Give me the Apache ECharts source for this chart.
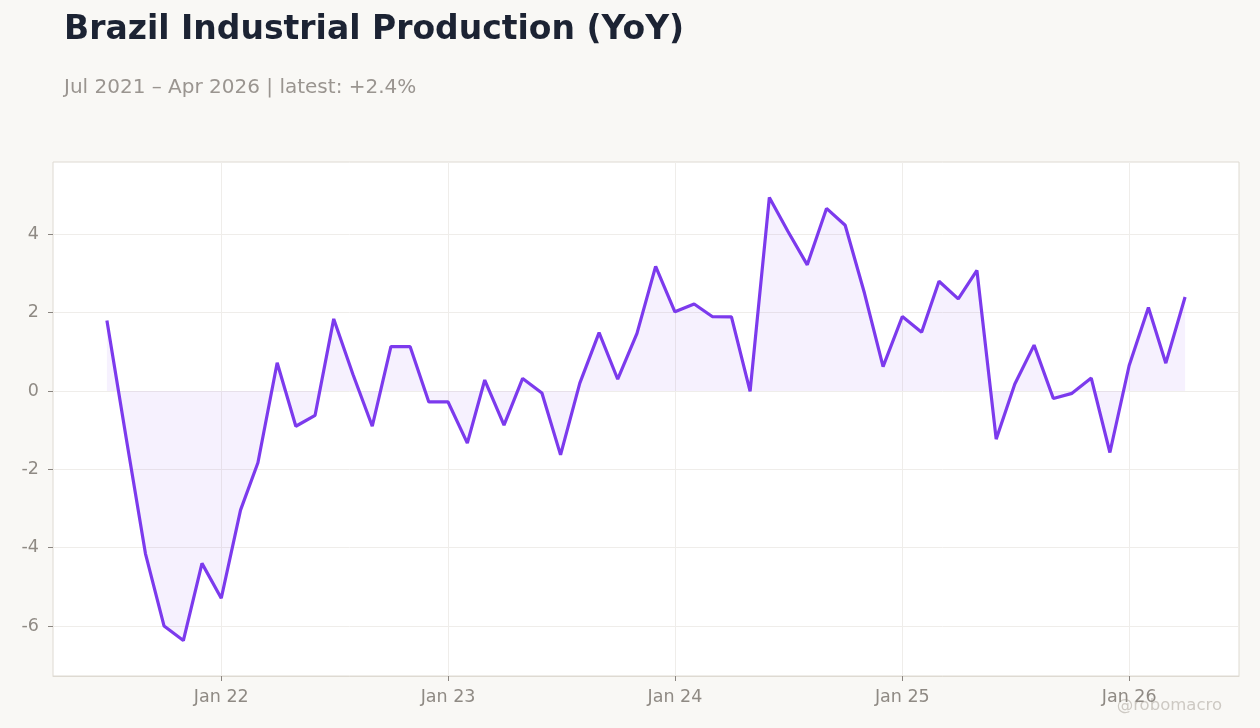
<!DOCTYPE html>
<html>
<head>
<meta charset="utf-8">
<script src="https://cdn.jsdelivr.net/npm/echarts@6/dist/echarts.min.js"></script>
<style>
html,body{margin:0;padding:0;background:#f9f8f5;}
#chart{width:1260px;height:728px;}
</style>
</head>
<body>
<div id="chart"></div>
<script>
const months = [
  '2021-07','2021-08','2021-09','2021-10','2021-11','2021-12',
  '2022-01','2022-02','2022-03','2022-04','2022-05','2022-06','2022-07','2022-08','2022-09','2022-10','2022-11','2022-12',
  '2023-01','2023-02','2023-03','2023-04','2023-05','2023-06','2023-07','2023-08','2023-09','2023-10','2023-11','2023-12',
  '2024-01','2024-02','2024-03','2024-04','2024-05','2024-06','2024-07','2024-08','2024-09','2024-10','2024-11','2024-12',
  '2025-01','2025-02','2025-03','2025-04','2025-05','2025-06','2025-07','2025-08','2025-09','2025-10','2025-11','2025-12',
  '2026-01','2026-02','2026-03','2026-04'
];
const yoyValues = [
  1.8, -1.2, -4.15, -6.0, -6.37, -4.4,
  -5.29, -3.04, -1.83, 0.72, -0.9, -0.62, 1.84, 0.42, -0.9, 1.13, 1.13, -0.28,
  -0.28, -1.33, 0.28, -0.87, 0.32, -0.05, -1.63, 0.2, 1.49, 0.3, 1.47, 3.18,
  2.02, 2.22, 1.9, 1.89, -0.01, 4.94, 4.07, 3.22, 4.66, 4.23, 2.5, 0.62,
  1.9, 1.5, 2.8, 2.35, 3.08, -1.23, 0.18, 1.17, -0.19, -0.06, 0.33, -1.57,
  0.65, 2.13, 0.71, 2.4
];
const xTickMonths = ['2022-01','2023-01','2024-01','2025-01','2026-01'];
const xTickLabels = ['Jan 22','Jan 23','Jan 24','Jan 25','Jan 26'];
const yTicks = [-6, -4, -2, 0, 2, 4];

const titleText = 'Brazil Industrial Production (YoY)';
const subtitleText = 'Jul 2021 \u2013 Apr 2026 | latest: +2.4%';
const watermark = '@robomacro';

function ts(m){ const p = m.split('-'); return Date.UTC(+p[0], +p[1]-1, 1); }

const seriesData = months.map((m, i) => [ts(m), yoyValues[i]]);
const xFirst = ts(months[0]), xLast = ts(months[months.length-1]);
const xSpan = xLast - xFirst;
const xMin = xFirst - 0.05 * xSpan, xMax = xLast + 0.05 * xSpan;
const vMin = Math.min(...yoyValues), vMax = Math.max(...yoyValues);
const vPad = 0.08 * (vMax - vMin);
const yMin = vMin - vPad, yMax = vMax + vPad;
const xTickValues = xTickMonths.map(ts);
const labelMap = {};
xTickValues.forEach((v, i) => labelMap[v] = xTickLabels[i]);

const chart = echarts.init(document.getElementById('chart'), null, {renderer: 'canvas'});
chart.setOption({
  backgroundColor: '#f9f8f5',
  animation: false,
  title: [
    {text: titleText, left: 59, top: 9,
     textStyle: {fontFamily: 'DejaVu Sans', fontSize: 33, fontWeight: 'bold', color: '#1c2333'}},
    {text: subtitleText, left: 59, top: 73,
     textStyle: {fontFamily: 'DejaVu Sans', fontSize: 20, fontWeight: 'normal', color: '#9a9590'}}
  ],
  graphic: [{
    type: 'text', right: 38, bottom: 14,
    style: {text: watermark, fontFamily: 'DejaVu Sans', fontSize: 16.5, fill: '#cdc9c3'}
  }],
  grid: {left: 53, right: 21, top: 162, bottom: 52, show: true,
         backgroundColor: '#ffffff', borderColor: '#dedad2', borderWidth: 1},
  xAxis: {
    type: 'value', min: xMin, max: xMax,
    axisLine: {show: true, onZero: false, lineStyle: {color: '#dedad2'}},
    axisTick: {show: true, length: 5, lineStyle: {color: '#8a8580'}, customValues: xTickValues},
    axisLabel: {customValues: xTickValues, formatter: v => labelMap[v] || '',
                fontFamily: 'DejaVu Sans', fontSize: 17.5, color: '#8f8a84', margin: 12},
    splitLine: {show: true, lineStyle: {color: '#efedea', width: 1}}
  },
  yAxis: {
    type: 'value', min: yMin, max: yMax,
    axisLine: {show: false},
    axisTick: {show: true, length: 5, lineStyle: {color: '#8a8580'}, customValues: yTicks},
    axisLabel: {customValues: yTicks, formatter: v => String(v),
                fontFamily: 'DejaVu Sans', fontSize: 17.5, color: '#8f8a84', margin: 14},
    splitLine: {show: true, lineStyle: {color: '#efedea', width: 1}}
  },
  series: [{
    type: 'line', data: seriesData, showSymbol: false, smooth: false,
    lineStyle: {color: '#7c3aed', width: 3.2},
    itemStyle: {color: '#7c3aed'},
    areaStyle: {color: 'rgba(124,58,237,0.1)'}
  }]
});
</script>
</body>
</html>
